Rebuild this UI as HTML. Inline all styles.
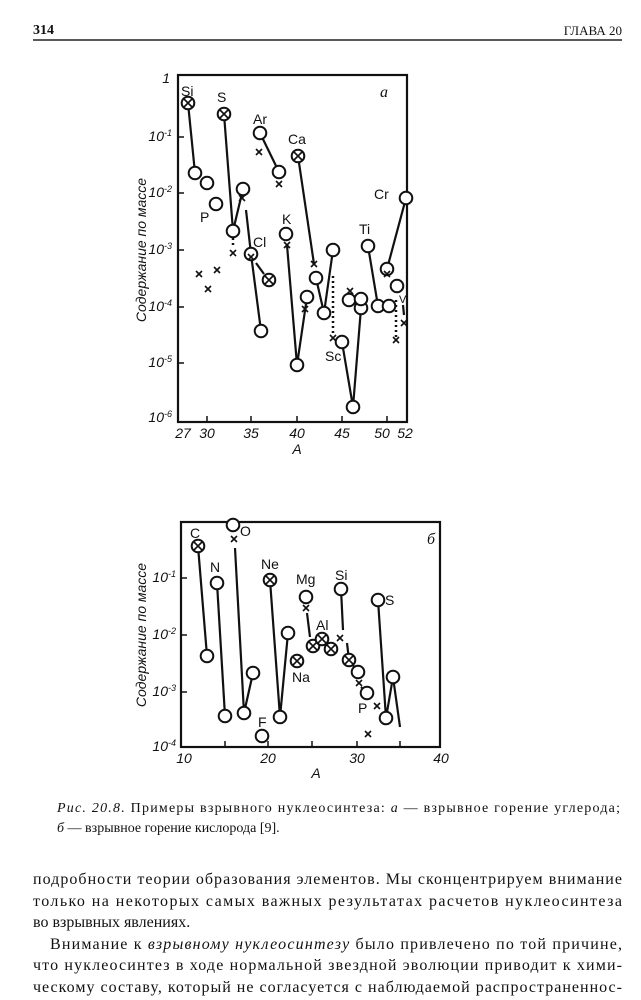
<!DOCTYPE html>
<html><head><meta charset="utf-8"><style>
html,body{margin:0;padding:0;background:#fff;}
svg{display:block}
.s{font-family:"Liberation Sans",sans-serif;font-size:14px;fill:#111}
.t{font-family:"Liberation Serif",serif;fill:#111}
</style></head><body>
<svg width="641" height="1000" viewBox="0 0 641 1000" xmlns="http://www.w3.org/2000/svg">
<g class="t">
<text x="33" y="34" font-size="14" font-weight="bold">314</text>
<text x="622" y="35" font-size="13" text-anchor="end">ГЛАВА 20</text>
</g>
<line x1="33" y1="40" x2="622" y2="40" stroke="#222" stroke-width="1.5"/>

<!-- Chart a -->
<g fill="none" stroke="#111" stroke-width="2.2">
<rect x="178" y="75" width="229" height="347"/>
</g>
<g stroke="#111" stroke-width="1.5">
<line x1="178" y1="137" x2="184" y2="137"/><line x1="178" y1="193" x2="184" y2="193"/>
<line x1="178" y1="250" x2="184" y2="250"/><line x1="178" y1="307" x2="184" y2="307"/>
<line x1="178" y1="363" x2="184" y2="363"/>
<line x1="207" y1="422" x2="207" y2="416"/><line x1="251" y1="422" x2="251" y2="416"/>
<line x1="297" y1="422" x2="297" y2="416"/><line x1="342" y1="422" x2="342" y2="416"/>
<line x1="387" y1="422" x2="387" y2="416"/>
</g>
<g class="s" font-style="italic" font-size="13">
<text x="170" y="83" text-anchor="end">1</text>
<text x="172" y="141" text-anchor="end">10<tspan dy="-5" font-size="9">-1</tspan></text>
<text x="172" y="197" text-anchor="end">10<tspan dy="-5" font-size="9">-2</tspan></text>
<text x="172" y="254" text-anchor="end">10<tspan dy="-5" font-size="9">-3</tspan></text>
<text x="172" y="311" text-anchor="end">10<tspan dy="-5" font-size="9">-4</tspan></text>
<text x="172" y="367" text-anchor="end">10<tspan dy="-5" font-size="9">-5</tspan></text>
<text x="172" y="422" text-anchor="end">10<tspan dy="-5" font-size="9">-6</tspan></text>
<text x="183" y="438" text-anchor="middle">27</text><text x="207" y="438" text-anchor="middle">30</text>
<text x="251" y="438" text-anchor="middle">35</text><text x="297" y="438" text-anchor="middle">40</text>
<text x="342" y="438" text-anchor="middle">45</text><text x="382" y="438" text-anchor="middle">50</text>
<text x="405" y="438" text-anchor="middle">52</text>
<text x="297" y="454" text-anchor="middle" font-size="14">A</text>
<text transform="translate(146,250) rotate(-90)" text-anchor="middle" font-size="14">Содержание по массе</text>
<text x="380" y="97" font-size="16" font-family="Liberation Serif">a</text>
</g>
<g fill="none" stroke="#111" stroke-width="2.2">
<polyline points="188,103 195,173"/>
<polyline points="224,114 233,231 243,189"/>
<polyline points="246,210 251,254 261,331"/>
<polyline points="260,133 279,172"/>
<polyline points="287,245 297,365 307,297"/>
<polyline points="298,156 314,264"/>
<polyline points="316,278 324,313 333,250"/>
<polyline points="342,342 353,407 361,308"/>
<polyline points="368,246 378,306"/>
<polyline points="387,269 406,198"/>
<polyline points="403,305 404,315"/>
<polyline points="256,263 264,274" />
</g>
<g fill="none" stroke="#111" stroke-width="2.5" stroke-dasharray="2,3">
<line x1="233" y1="238" x2="233" y2="248"/>
<line x1="333" y1="276" x2="333" y2="335"/>
<line x1="396" y1="300" x2="396" y2="337"/>
</g>
<g fill="#fff" stroke="#111" stroke-width="2">
<circle cx="195" cy="173" r="6.3"/><circle cx="207" cy="183" r="6.3"/><circle cx="216" cy="204" r="6.3"/>
<circle cx="233" cy="231" r="6.3"/><circle cx="243" cy="189" r="6.3"/><circle cx="251" cy="254" r="6.3"/>
<circle cx="261" cy="331" r="6.3"/><circle cx="260" cy="133" r="6.3"/><circle cx="279" cy="172" r="6.3"/>
<circle cx="286" cy="234" r="6.3"/><circle cx="297" cy="365" r="6.3"/><circle cx="307" cy="297" r="6.3"/>
<circle cx="316" cy="278" r="6.3"/><circle cx="324" cy="313" r="6.3"/><circle cx="333" cy="250" r="6.3"/>
<circle cx="342" cy="342" r="6.3"/><circle cx="353" cy="407" r="6.3"/><circle cx="361" cy="308" r="6.3"/>
<circle cx="349" cy="300" r="6.3"/><circle cx="361" cy="299" r="6.3"/><circle cx="368" cy="246" r="6.3"/>
<circle cx="378" cy="306" r="6.3"/><circle cx="389" cy="306" r="6.3"/><circle cx="387" cy="269" r="6.3"/>
<circle cx="406" cy="198" r="6.3"/><circle cx="397" cy="286" r="6.3"/>
<circle cx="188" cy="103" r="6.3"/><circle cx="224" cy="114" r="6.3"/><circle cx="298" cy="156" r="6.3"/><circle cx="269" cy="280" r="6.3"/>
</g>
<g stroke="#111" stroke-width="1.6">
<path d="M184,99l8,8M192,99l-8,8M220,110l8,8M228,110l-8,8M294,152l8,8M302,152l-8,8M265,276l8,8M273,276l-8,8"/>
<path d="M196,271l6,6M202,271l-6,6 M205,286l6,6M211,286l-6,6 M214,267l6,6M220,267l-6,6 M230,250l6,6M236,250l-6,6 M239,195l6,6M245,195l-6,6 M248,254l6,6M254,254l-6,6 M256,149l6,6M262,149l-6,6 M276,181l6,6M282,181l-6,6 M284,242l6,6M290,242l-6,6 M302,306l6,6M308,306l-6,6 M311,261l6,6M317,261l-6,6 M330,335l6,6M336,335l-6,6 M347,288l6,6M353,288l-6,6 M384,271l6,6M390,271l-6,6 M401,320l6,6M407,320l-6,6 M393,337l6,6M399,337l-6,6"/>
</g>
<g class="s">
<text x="181" y="96">Si</text><text x="217" y="102">S</text><text x="253" y="124">Ar</text>
<text x="288" y="144">Ca</text><text x="282" y="224">K</text><text x="200" y="222">P</text>
<text x="253" y="247">Cl</text><text x="325" y="361">Sc</text><text x="359" y="234">Ti</text>
<text x="374" y="199">Cr</text><text x="399" y="303" font-size="11">V</text>
</g>

<!-- Chart b -->
<g fill="none" stroke="#111" stroke-width="2.2">
<rect x="181" y="522" width="259" height="225"/>
</g>
<g stroke="#111" stroke-width="1.5">
<line x1="181" y1="578" x2="187" y2="578"/><line x1="181" y1="635" x2="187" y2="635"/>
<line x1="181" y1="692" x2="187" y2="692"/>
<line x1="225" y1="747" x2="225" y2="741"/><line x1="268" y1="747" x2="268" y2="741"/>
<line x1="312" y1="747" x2="312" y2="741"/><line x1="357" y1="747" x2="357" y2="741"/>
<line x1="400" y1="747" x2="400" y2="741"/>
</g>
<g class="s" font-style="italic" font-size="13">
<text x="176" y="582" text-anchor="end">10<tspan dy="-5" font-size="9">-1</tspan></text>
<text x="176" y="639" text-anchor="end">10<tspan dy="-5" font-size="9">-2</tspan></text>
<text x="176" y="696" text-anchor="end">10<tspan dy="-5" font-size="9">-3</tspan></text>
<text x="176" y="751" text-anchor="end">10<tspan dy="-5" font-size="9">-4</tspan></text>
<text x="184" y="763" text-anchor="middle">10</text><text x="268" y="763" text-anchor="middle">20</text>
<text x="357" y="763" text-anchor="middle">30</text><text x="441" y="763" text-anchor="middle">40</text>
<text x="316" y="778" text-anchor="middle" font-size="14">A</text>
<text transform="translate(146,635) rotate(-90)" text-anchor="middle" font-size="14">Содержание по массе</text>
<text x="427" y="544" font-size="16" font-family="Liberation Serif">б</text>
</g>
<g fill="none" stroke="#111" stroke-width="2.2">
<polyline points="198,546 207,656"/>
<polyline points="217,583 225,716"/>
<polyline points="235,548 244,713 253,673"/>
<polyline points="270,580 280,717 288,633"/>
<polyline points="307,613 310,637"/>
<polyline points="341,589 343,630"/>
<polyline points="347,643 349,660 358,672"/>
<polyline points="361,687 367,693"/>
<polyline points="378,600 386,718 393,677 400,727"/>
</g>
<g fill="#fff" stroke="#111" stroke-width="2">
<circle cx="207" cy="656" r="6.3"/><circle cx="217" cy="583" r="6.3"/><circle cx="225" cy="716" r="6.3"/>
<circle cx="233" cy="525" r="6.3"/><circle cx="244" cy="713" r="6.3"/><circle cx="253" cy="673" r="6.3"/>
<circle cx="262" cy="736" r="6.3"/><circle cx="280" cy="717" r="6.3"/><circle cx="288" cy="633" r="6.3"/>
<circle cx="306" cy="597" r="6.3"/><circle cx="341" cy="589" r="6.3"/><circle cx="358" cy="672" r="6.3"/>
<circle cx="367" cy="693" r="6.3"/><circle cx="378" cy="600" r="6.3"/><circle cx="386" cy="718" r="6.3"/>
<circle cx="393" cy="677" r="6.3"/>
<circle cx="198" cy="546" r="6.3"/><circle cx="270" cy="580" r="6.3"/><circle cx="297" cy="661" r="6.3"/>
<circle cx="313" cy="646" r="6.3"/><circle cx="322" cy="639" r="6.3"/><circle cx="331" cy="649" r="6.3"/><circle cx="349" cy="660" r="6.3"/>
</g>
<g stroke="#111" stroke-width="1.6">
<path d="M194,542l8,8M202,542l-8,8M266,576l8,8M274,576l-8,8M293,657l8,8M301,657l-8,8M309,642l8,8M317,642l-8,8M318,635l8,8M326,635l-8,8M327,645l8,8M335,645l-8,8M345,656l8,8M353,656l-8,8"/>
<path d="M231,536l6,6M237,536l-6,6 M303,605l6,6M309,605l-6,6 M337,635l6,6M343,635l-6,6 M356,680l6,6M362,680l-6,6 M365,731l6,6M371,731l-6,6 M374,703l6,6M380,703l-6,6"/>
</g>
<g class="s">
<text x="190" y="538">C</text><text x="210" y="572">N</text><text x="240" y="536">O</text>
<text x="258" y="727">F</text><text x="261" y="569">Ne</text><text x="292" y="682">Na</text>
<text x="296" y="584">Mg</text><text x="316" y="630">Al</text><text x="335" y="580">Si</text>
<text x="358" y="713">P</text><text x="385" y="605">S</text>
</g>

<!-- Caption and text -->
<g class="t" font-size="14">
<text x="57" y="812" textLength="563" lengthAdjust="spacing"><tspan font-style="italic">Рис. 20.8.</tspan> Примеры взрывного нуклеосинтеза: <tspan font-style="italic">а</tspan> — взрывное горение углерода;</text>
<text x="57" y="832"><tspan font-style="italic">б</tspan> — взрывное горение кислорода [9].</text>
</g>
<g class="t" font-size="16">
<text x="33" y="884" textLength="589" lengthAdjust="spacing">подробности теории образования элементов. Мы сконцентрируем внимание</text>
<text x="33" y="906" textLength="589" lengthAdjust="spacing">только на некоторых самых важных результатах расчетов нуклеосинтеза</text>
<text x="33" y="927">во взрывных явлениях.</text>
<text x="50" y="949" textLength="572" lengthAdjust="spacing">Внимание к <tspan font-style="italic">взрывному нуклеосинтезу</tspan> было привлечено по той причине,</text>
<text x="33" y="970" textLength="589" lengthAdjust="spacing">что нуклеосинтез в ходе нормальной звездной эволюции приводит к хими-</text>
<text x="33" y="992" textLength="589" lengthAdjust="spacing">ческому составу, который не согласуется с наблюдаемой распространеннос-</text>
</g>
</svg>
</body></html>
